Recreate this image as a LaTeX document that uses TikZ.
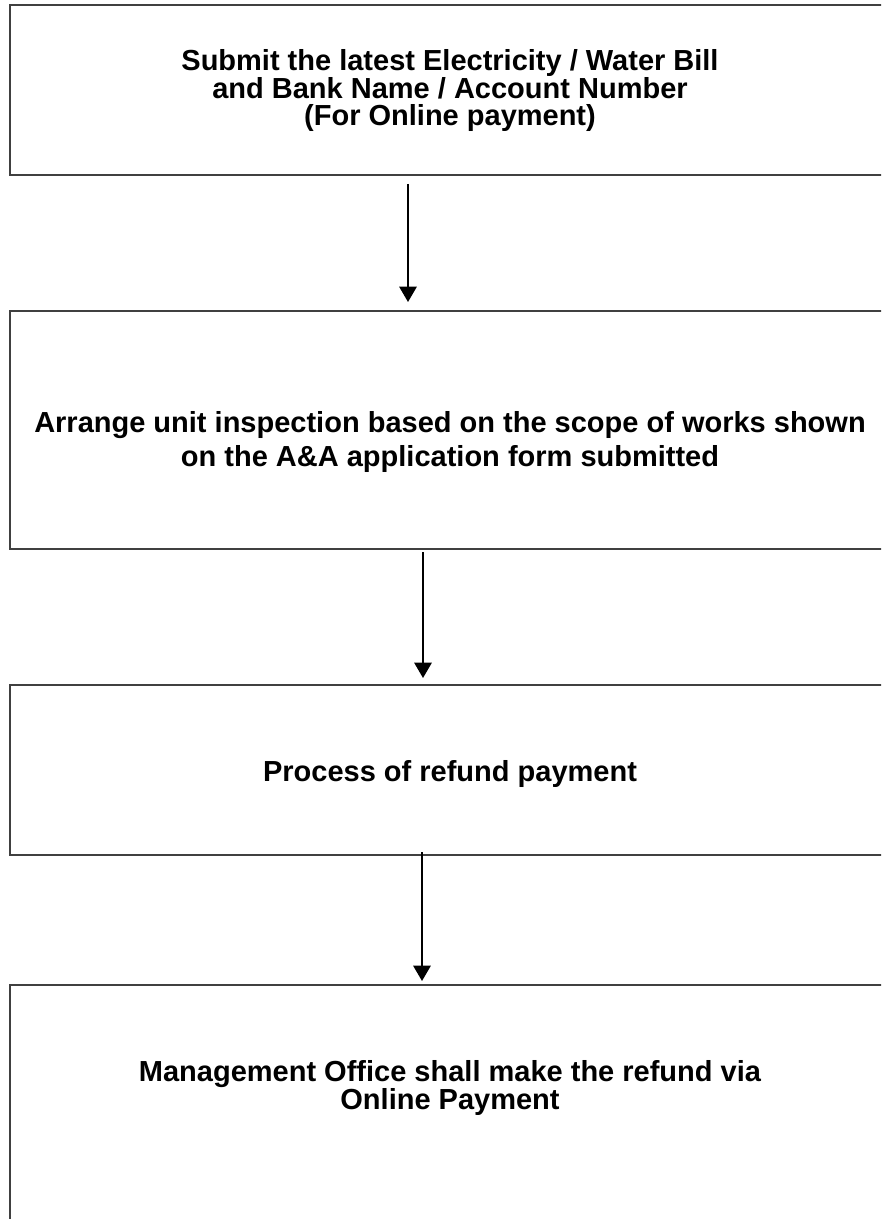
\documentclass[tikz,border=0pt]{standalone}
\usepackage{fontspec}
\setmainfont{Liberation Sans}
\usetikzlibrary{arrows.meta}
\definecolor{boxgray}{RGB}{64,64,64}
\begin{document}
\begin{tikzpicture}[x=0.75pt,y=-0.75pt,
  box/.style={draw=boxgray, line width=1.5pt, rectangle, inner sep=0pt, minimum width=660pt},
  lbl/.style={font=\bfseries\fontsize{21.75pt}{24.75pt}\selectfont, align=center, inner sep=0pt},
  tight/.style={font=\bfseries\fontsize{21.75pt}{20.25pt}\selectfont},
  arr/.style={draw=black, line width=1.5pt, -{Triangle[length=11.5pt,width=13pt]}}]
\clip (0,0) rectangle (881,1219);
\node[box, minimum height=127.5pt] (b1) at (450,90) {};
\node[box, minimum height=178.5pt] (b2) at (450,430) {};
\node[box, minimum height=127.5pt] (b3) at (450,770) {};
\node[box, minimum height=191.25pt] (b4) at (450,1112.5) {};
\node[lbl, tight] (t1) at (450,90.5) {Submit the latest Electricity / Water Bill\\and Bank Name / Account Number\\(For Online payment)};
\node[lbl] (t2) at (450,442) {Arrange unit inspection based on the scope of works shown\\on the A\&A application form submitted};
\node[lbl] (t3) at (450,774) {Process of refund payment};
\node[lbl, tight] (t4) at (450,1088) {Management Office shall make the refund via\\Online Payment};
\draw[arr] ([xshift=-31.5pt,yshift=-6pt]b1.south) -- ([xshift=-31.5pt,yshift=6pt]b2.north);
\draw[arr] ([xshift=-20.25pt,yshift=-1.5pt]b2.south) -- ([xshift=-20.25pt,yshift=4.5pt]b3.north);
\draw[arr] ([xshift=-21pt,yshift=3pt]b3.south) -- ([xshift=-21pt,yshift=2.25pt]b4.north);
\end{tikzpicture}
\end{document}
